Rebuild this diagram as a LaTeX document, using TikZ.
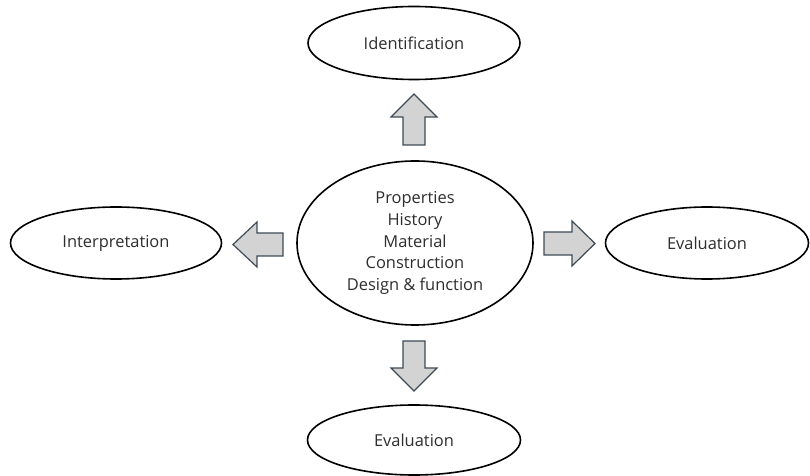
\documentclass[tikz,border=0pt]{standalone}
\usepackage{fontspec}
\setmainfont{Open Sans}
\usetikzlibrary{shapes.geometric}
\definecolor{txt}{HTML}{2E2E2E}
\definecolor{afill}{HTML}{D3D3D3}
\definecolor{aline}{HTML}{3E4A56}
\begin{document}
\begin{tikzpicture}[x=1bp,y=-1bp,
  oval/.style={ellipse,draw=black,line width=1.6bp,fill=white,inner sep=0pt,text=txt,font=\fontsize{16.5}{22}\selectfont,align=center},
  blockarrow/.style={draw=aline,fill=afill,line width=1.2bp,line join=miter}]
\useasboundingbox (0,0) rectangle (810,476);
\node[oval,minimum width=236bp,minimum height=164bp] (core) at (415,243) {Properties\\History\\Material\\Construction\\Design \& function};
\node[oval,minimum width=212bp,minimum height=73bp] (ident) at (414,43) {Identification};
\node[oval,minimum width=211bp,minimum height=72bp] (interp) at (116,243) {Interpretation};
\node[oval,minimum width=203bp,minimum height=72bp] (evalr) at (707,243) {Evaluation};
\node[oval,minimum width=213bp,minimum height=70bp] (evalb) at (414,440) {Evaluation};
% up arrow
\draw[blockarrow] (403,145) -- (403,117) -- (391,117) -- (414,94) -- (437,117) -- (425,117) -- (425,145) -- cycle;
% down arrow
\draw[blockarrow] (403,341) -- (403,368) -- (391,368) -- (414,391) -- (437,368) -- (425,368) -- (425,341) -- cycle;
% left arrow
\draw[blockarrow] (283,233) -- (257,233) -- (257,222) -- (233,244.5) -- (257,267) -- (257,256) -- (283,256) -- cycle;
% right arrow
\draw[blockarrow] (544,232) -- (572,232) -- (572,221) -- (595,243.5) -- (572,266) -- (572,255) -- (544,255) -- cycle;
\end{tikzpicture}
\end{document}
